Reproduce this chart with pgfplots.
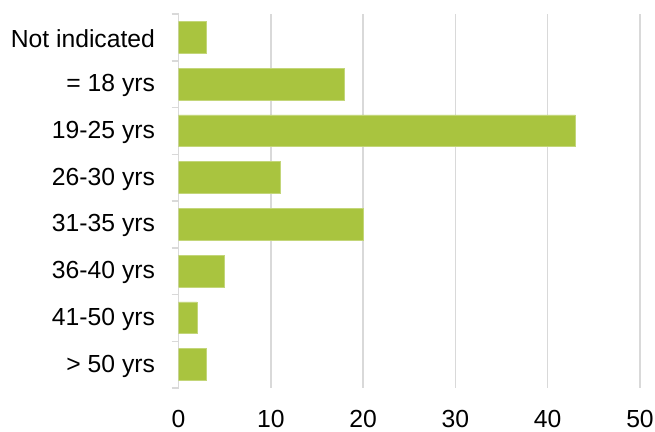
\documentclass[border=0pt]{standalone}
\usepackage{pgfplots}
\pgfplotsset{compat=1.18}
\usepackage{fontspec}
\setmainfont{Liberation Sans}
\definecolor{barg}{HTML}{A9C43F}
\definecolor{gridg}{HTML}{D9D9D9}
\begin{document}
\begin{tikzpicture}
\begin{axis}[
    at={(178.5bp,44bp)}, anchor=south west,
    scale only axis,
    width=461.5bp, height=374bp,
    xbar, bar width=0.68,
    xmin=0, xmax=50,
    ymin=-0.5, ymax=7.5,
    y dir=reverse,
    xtick={0,10,...,50},
    ytick={0,...,7},
    yticklabels={Not indicated, = 18 yrs, 19-25 yrs, 26-30 yrs, 31-35 yrs, 36-40 yrs, 41-50 yrs, > 50 yrs},
    minor ytick={-0.5,0.5,...,7.5},
    major tick length=0pt,
    minor tick length=7bp,
    tick align=outside,
    minor tick style={draw=gridg, line width=1.5bp},
    axis x line*=bottom, axis y line*=left,
    x axis line style={draw=none},
    y axis line style={draw=gridg, line width=1.5bp},
    xmajorgrids, major grid style={draw=gridg, line width=1.5bp},
    /pgf/number format/assume math mode=true,
    tick label style={font=\fontsize{24.8}{29}\selectfont, text=black},
    xticklabel style={yshift=-21bp, text depth=0pt, inner sep=1bp},
    yticklabel style={xshift=-20bp, yshift=-1.5bp},
]
\addplot[fill=barg, draw=barg!70!white, line width=0.8bp] coordinates {
    (3,0) (18,1) (43,2) (11,3) (20,4) (5,5) (2,6) (3,7)
};
\end{axis}
\pgfresetboundingbox
\useasboundingbox (0,0) rectangle (655bp,432bp);
\end{tikzpicture}
\end{document}
